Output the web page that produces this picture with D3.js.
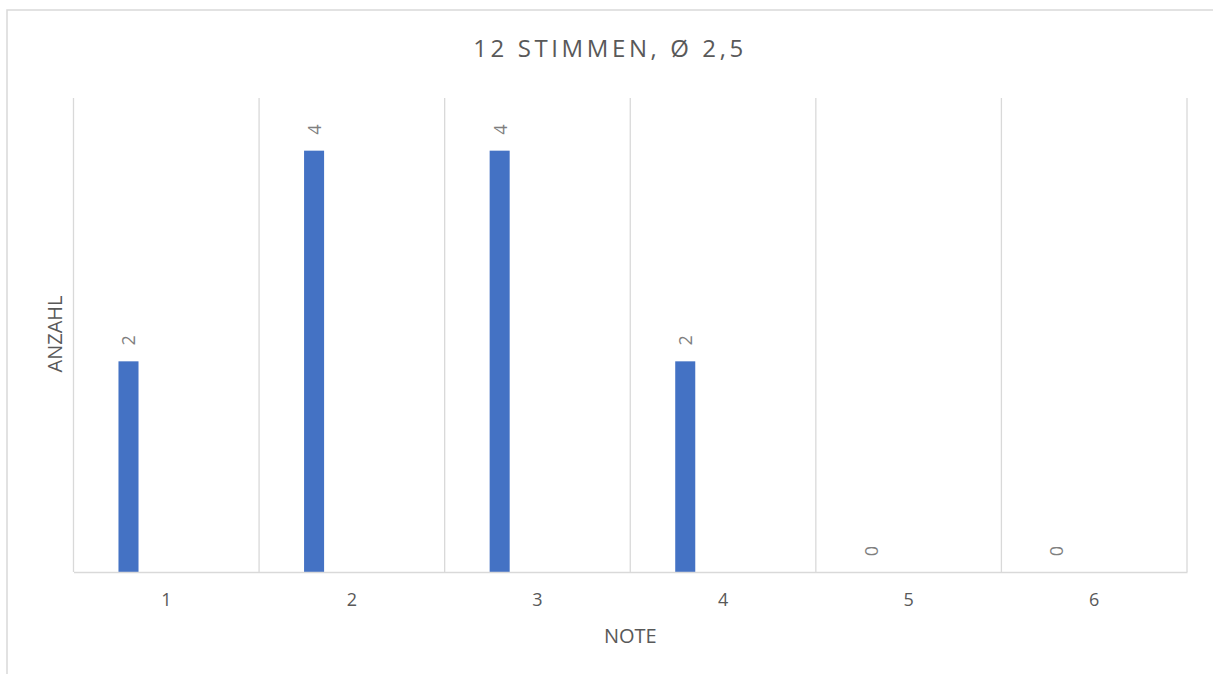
<!DOCTYPE html>
<html>
<head>
<meta charset="utf-8">
<script src="https://cdn.jsdelivr.net/npm/d3@7"></script>
<style>
  html, body { margin: 0; padding: 0; background: #fff; }
  svg { display: block; }
</style>
</head>
<body>
<div id="chart"></div>
<script>
// Notenverteilung — clustered column chart, Excel look.

const categories = ['1', '2', '3', '4', '5', '6'];
const counts = [2, 4, 4, 2, 0, 0];
// Excel keeps room for a second (empty) series, which pushes the bars left
const seriesSlots = ['Anzahl', 'leer'];
const yDomain = [0, 4.5];
const titleText = '12 STIMMEN, Ø 2,5';
const xTitle = 'NOTE';
const yTitle = 'ANZAHL';

const W = 1213, H = 674;
const m = { top: 98, right: 26, bottom: 102, left: 73.5 };
const iW = W - m.left - m.right, iH = H - m.top - m.bottom;
const FONT = '"Open Sans", "Noto Sans", sans-serif';
const GRID = '#d9d9d9', TXT = '#595959', LBL = '#7f7f7f', BAR = '#4472c4';

const svg = d3.select('#chart').append('svg').attr('width', W).attr('height', H);

// Chart area frame (runs off the right / bottom edge)
svg.append('rect')
  .attr('x', 7).attr('y', 10).attr('width', W + 20).attr('height', H + 20)
  .attr('fill', '#fff').attr('stroke', GRID).attr('stroke-width', 1.5);

// Title
svg.append('text')
  .attr('x', 610).attr('y', 57)
  .attr('text-anchor', 'middle')
  .attr('font-family', FONT).attr('font-size', 24)
  .attr('letter-spacing', '3.6px')
  .attr('fill', TXT)
  .text(titleText);

const g = svg.append('g').attr('transform', `translate(${m.left},${m.top})`);

const x0 = d3.scaleBand().domain(categories).range([0, iW]).padding(0);
const x1 = d3.scaleBand().domain(seriesSlots).range([0, x0.bandwidth()])
  .paddingInner(0.735).paddingOuter(0.595);
const y = d3.scaleLinear().domain(yDomain).range([iH, 0]);

// Vertical gridlines at the category borders
g.append('g')
  .call(d3.axisBottom(x0).tickSize(-iH).tickFormat('').offset(0))
  .attr('transform', `translate(0,${iH})`)
  .call(a => {
    a.select('.domain').remove();
    a.selectAll('.tick').attr('transform', d => `translate(${x0(d)},0)`);
    a.selectAll('line').attr('stroke', GRID).attr('stroke-width', 1.3);
  });
g.append('line')
  .attr('x1', iW).attr('x2', iW).attr('y1', 0).attr('y2', iH)
  .attr('stroke', GRID).attr('stroke-width', 1.3);

// Bars
g.selectAll('.bar').data(counts).enter().append('rect')
  .attr('x', (d, i) => x0(categories[i]) + x1(seriesSlots[0]))
  .attr('y', d => y(d))
  .attr('width', x1.bandwidth())
  .attr('height', d => iH - y(d))
  .attr('fill', BAR);

// X axis
g.append('g').attr('transform', `translate(0,${iH})`)
  .call(d3.axisBottom(x0).tickSize(0).tickPadding(21))
  .call(a => {
    a.select('.domain').attr('stroke', GRID).attr('stroke-width', 1.5);
    a.selectAll('text').attr('font-family', FONT).attr('font-size', 18).attr('fill', TXT);
  });

// Data labels, rotated
g.selectAll('.lbl').data(counts).enter().append('text')
  .attr('transform', (d, i) => {
    const cx = x0(categories[i]) + x1(seriesSlots[0]) + x1.bandwidth() / 2;
    return `translate(${cx},${y(d) - 21}) rotate(-90)`;
  })
  .attr('text-anchor', 'middle')
  .attr('dominant-baseline', 'central')
  .attr('font-family', FONT).attr('font-size', 18)
  .attr('fill', LBL)
  .text(d => d);

// Axis titles
svg.append('text')
  .attr('x', m.left + iW / 2).attr('y', 643)
  .attr('text-anchor', 'middle')
  .attr('font-family', FONT).attr('font-size', 20).attr('fill', TXT)
  .text(xTitle);

svg.append('text')
  .attr('transform', `translate(62,${334}) rotate(-90)`)
  .attr('text-anchor', 'middle')
  .attr('font-family', FONT).attr('font-size', 20).attr('fill', TXT)
  .text(yTitle);
</script>
</body>
</html>
